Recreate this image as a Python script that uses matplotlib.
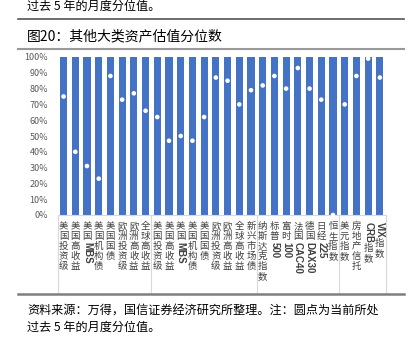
import matplotlib
matplotlib.use('Agg')
import matplotlib.pyplot as plt
import numpy as np
from matplotlib.lines import Line2D

plt.rcParams['font.family'] = ['Noto Sans CJK SC', 'DejaVu Sans']

categories = ['美国投资级', '美国高收益', '美国MBS', '美国机构债', '美国国债',
              '欧洲投资级', '欧洲高收益', '全球高收益',
              '美国投资级', '美国高收益', '美国MBS', '美国机构债', '美国国债',
              '欧洲投资级', '欧洲高收益', '全球高收益', '新兴市场债',
              '纳斯达克指数', '标普500', '富时100', '法国CAC40', '德国DAX30',
              '日经225', '恒生指数',
              '美元指数', '房地产信托', 'CRB指数', 'VIX指数']
values = [75, 40, 31, 23, 88, 73, 77, 66,
          62, 47, 50, 47, 62, 87, 85, 70, 79,
          82, 88, 80, 93, 80, 73, 0,
          70, 88, 99, 87]
full_scale = [100] * len(categories)
group_sizes = [8, 9, 7, 4]
yticks = [0, 10, 20, 30, 40, 50, 60, 70, 80, 90, 100]
ytick_labels = [f'{v}%' for v in yticks]
title = '图20：其他大类资产估值分位数'
top_text = '过去 5 年的月度分位值。'
source_line1 = '资料来源：万得，国信证券经济研究所整理。注：圆点为当前所处'
source_line2 = '过去 5 年的月度分位值。'

W, H = 415, 338
fig = plt.figure(figsize=(W / 100, H / 100), dpi=100)
ax = fig.add_axes([57.7 / W, 123 / H, 328 / W, 158 / H])

x = np.arange(len(categories))
ax.bar(x, full_scale, width=0.6, color='#4472C4', zorder=2)
ax.scatter(x, values, s=11, color='white', edgecolors='none', zorder=3, clip_on=False)

ax.set_xlim(-0.5, len(categories) - 0.5)
ax.set_ylim(0, 100)
ax.set_yticks(yticks)
ax.set_yticklabels(ytick_labels, fontsize=6.5, color='#595959')
ax.tick_params(axis='y', length=0, pad=7)
ax.set_xticks([])
for s in ['top', 'right', 'left']:
    ax.spines[s].set_visible(False)
ax.spines['bottom'].set_color('#d9d9d9')
ax.spines['bottom'].set_linewidth(0.8)

# group separators
bounds = np.cumsum([0] + group_sizes) - 0.5
for b in bounds:
    ax.plot([b, b], [0, -0.49], transform=ax.get_xaxis_transform(),
            clip_on=False, color='#d9d9d9', lw=0.8)

# vertical category labels
renderer = fig.canvas.get_renderer()
for i, lab in enumerate(categories):
    runs = []
    for ch in lab:
        if ord(ch) < 128:
            if runs and runs[-1][0] == 'a':
                runs[-1][1] += ch
            else:
                runs.append(['a', ch])
        else:
            runs.append(['c', ch])
    off = 7
    for kind, txt in runs:
        if kind == 'c':
            ax.annotate(txt, xy=(i, 0), xycoords=ax.get_xaxis_transform(),
                        xytext=(0, -off), textcoords='offset pixels',
                        ha='center', va='top', fontsize=6.8, color='#404040')
            off += 10
        else:
            t = ax.annotate(txt, xy=(i, 0), xycoords=ax.get_xaxis_transform(),
                            xytext=(0, -off), textcoords='offset pixels',
                            ha='center', va='top', fontsize=7, rotation=-90,
                            color='#404040', family=['Liberation Sans', 'DejaVu Sans'],
                            fontweight='bold')
            bb = t.get_window_extent(renderer=renderer)
            off += bb.height + 1

# figure decorations
fig.add_artist(Line2D([18 / W, 404 / W], [1 - 19.3 / H] * 2, color='#555555', lw=1.2,
                      transform=fig.transFigure))
fig.add_artist(Line2D([18 / W, 404 / W], [1 - 49 / H] * 2, color='#999999', lw=1.5,
                      transform=fig.transFigure))
fig.add_artist(Line2D([18 / W, 404 / W], [1 - 293.5 / H] * 2, color='#7f7f7f', lw=1.8,
                      transform=fig.transFigure))

fig.text(27 / W, 1 - 6 / H, top_text, fontsize=8.7, va='center', ha='left', color='black')
fig.text(27 / W, 1 - 36.7 / H, title, fontsize=10, va='center', ha='left', color='black')
fig.text(27 / W, 1 - 311 / H, source_line1, fontsize=8.7, va='center', ha='left', color='black')
fig.text(27 / W, 1 - 327 / H, source_line2, fontsize=8.7, va='center', ha='left', color='black')

fig.savefig('out.png', dpi=100)
